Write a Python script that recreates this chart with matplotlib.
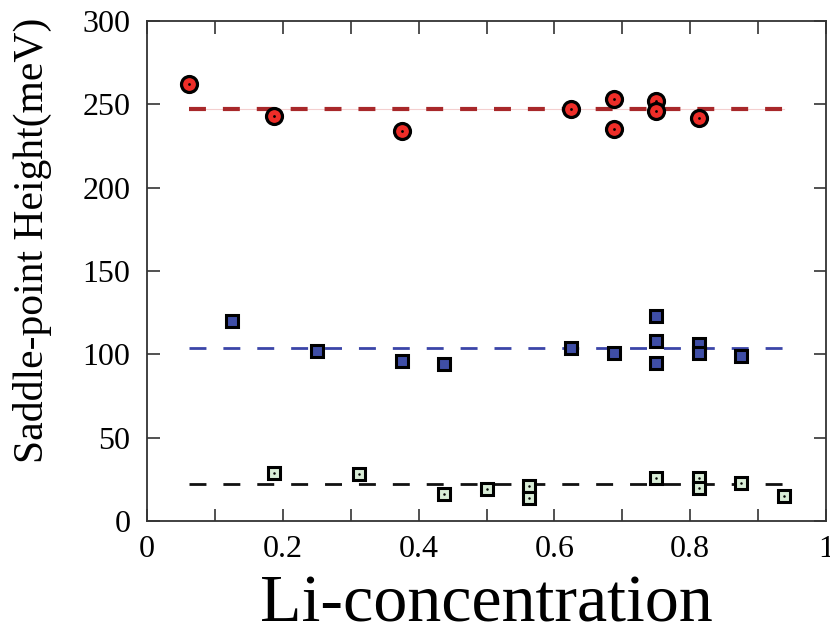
import matplotlib
matplotlib.use("Agg")
import matplotlib.pyplot as plt
from matplotlib.ticker import MultipleLocator

# ---- data ----
red_x = [0.0625, 0.1875, 0.375, 0.625, 0.6875, 0.6875, 0.75, 0.75, 0.8125]
red_y = [262, 243, 234, 247, 253, 235, 252, 246, 242]
red_mean = 247

blue_x = [0.125, 0.25, 0.375, 0.4375, 0.625, 0.6875, 0.75, 0.75, 0.75, 0.8125, 0.8125, 0.875]
blue_y = [120, 102, 96, 94, 104, 101, 123, 108, 95, 106, 101, 99]
blue_mean = 104

green_x = [0.1875, 0.3125, 0.4375, 0.5, 0.5625, 0.5625, 0.75, 0.8125, 0.8125, 0.875, 0.9375]
green_y = [29, 28, 16, 19, 21, 14, 26, 26, 20, 23, 15]
green_mean = 22

line_x = [0.0625, 0.9375]

xticks = [0, 0.2, 0.4, 0.6, 0.8, 1]
xticklabels = ["0", "0.2", "0.4", "0.6", "0.8", "1"]
yticks = [0, 50, 100, 150, 200, 250, 300]

plt.rcParams['font.family'] = ['Liberation Serif', 'DejaVu Serif']
plt.rcParams['lines.scale_dashes'] = False

fig = plt.figure(figsize=(8.3, 6.37), dpi=100)
ax = fig.add_axes([147/830, 1-521/637, (826-147)/830, (521-21)/637])

# mean lines
ax.plot(line_x, [red_mean]*2, color='#f4cfcf', lw=0.8, zorder=1)
ax.plot(line_x, [red_mean]*2, color='#a8282a', lw=3.0, dashes=(12.2, 12.2), zorder=2)
ax.plot(line_x, [blue_mean]*2, color='#3b45a8', lw=2.0, dashes=(12.2, 12.2), zorder=2)
ax.plot(line_x, [green_mean]*2, color='#111111', lw=2.0, dashes=(12.2, 12.2), zorder=2)

# markers
ax.plot(red_x, red_y, ls='none', marker='o', ms=11.5, mfc='#ee2d28', mec='black', mew=2.3, zorder=3)
ax.plot(red_x, red_y, ls='none', marker='o', ms=2.0, mfc='black', mec='black', mew=0, zorder=4)

ax.plot(blue_x, blue_y, ls='none', marker='s', ms=8.0, mfc='#3f4ea6', mec='black', mew=2.2, zorder=3)

ax.plot(green_x, green_y, ls='none', marker='s', ms=8.0, mfc='#d8ecd6', mec='black', mew=2.2, zorder=3)
ax.plot(green_x, green_y, ls='none', marker='o', ms=1.8, mfc='black', mec='black', mew=0, zorder=4)

ax.set_xlim(0, 1)
ax.set_ylim(0, 300)
ax.set_xticks(xticks)
ax.set_xticklabels(xticklabels)
ax.xaxis.set_minor_locator(MultipleLocator(0.1))
ax.set_yticks(yticks)

for s in ax.spines.values():
    s.set_color('#333333')
    s.set_linewidth(1.3)

ax.tick_params(axis='both', which='both', direction='in', top=True, right=True,
               length=9, width=1.2, color='#333333', labelsize=23, pad=12)
ax.tick_params(axis='x', which='major', pad=10)

ax.set_xlabel('Li-concentration', fontsize=49, labelpad=8)
ax.set_ylabel('Saddle-point Height(meV)', fontsize=30)
ax.yaxis.set_label_coords(-0.14, 0.562)

fig.savefig('out.png', dpi=100)
